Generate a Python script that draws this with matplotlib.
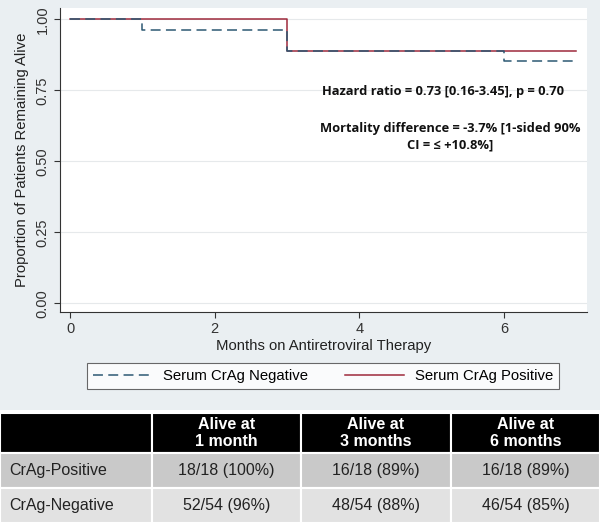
import matplotlib.pyplot as plt
from matplotlib.patches import Rectangle

# Kaplan-Meier step data
pos_months = [0, 3, 3, 7]
pos_surv = [1.0, 1.0, 0.889, 0.889]
neg_months = [0, 1, 1, 3, 3, 6, 6, 7]
neg_surv = [1.0, 1.0, 0.963, 0.963, 0.889, 0.889, 0.852, 0.852]

x_ticks = [0, 2, 4, 6]
y_ticks = [0.0, 0.25, 0.5, 0.75, 1.0]

# table below the chart
col_headers = ['', 'Alive at\n1 month', 'Alive at\n3 months', 'Alive at\n6 months']
row_labels = ['CrAg-Positive', 'CrAg-Negative']
cell_text = [['18/18 (100%)', '16/18 (89%)', '16/18 (89%)'],
             ['52/54 (96%)', '48/54 (88%)', '46/54 (85%)']]

plt.rcParams['font.family'] = ['Liberation Sans', 'DejaVu Sans']

W, H = 600, 524
fig = plt.figure(figsize=(6.0, 5.24), dpi=100)
fig.patch.set_facecolor('white')

# light background behind the chart area
bg = Rectangle((0, 1 - 410 / H), 1, 410 / H, transform=fig.transFigure,
               facecolor='#eaeff2', edgecolor='none', zorder=-10)
fig.add_artist(bg)

ax = fig.add_axes([60 / W, 1 - 312 / H, 527 / W, 304 / H])
ax.set_zorder(1)
ax.set_facecolor('white')
ax.step(neg_months, neg_surv, where='post', color='#2c5873', lw=1.1,
        linestyle=(0, (6.5, 3.5)), label='Serum CrAg Negative', zorder=3)
ax.step(pos_months, pos_surv, where='post', color='#9e2a3c', lw=1.1,
        label='Serum CrAg Positive', zorder=2)

ax.set_xlim(-0.14, 7.15)
ax.set_ylim(-0.03, 1.04)
ax.set_xticks(x_ticks)
ax.set_yticks(y_ticks)
ax.set_yticklabels(['%.2f' % v for v in y_ticks], rotation=90, va='center')
ax.tick_params(labelsize=10.5, colors='#333333', length=4, width=0.8)
ax.grid(axis='y', color='#e6e9eb', lw=0.8)
ax.set_axisbelow(True)
for side in ['top', 'right']:
    ax.spines[side].set_visible(False)
for side in ['left', 'bottom']:
    ax.spines[side].set_color('#333333')
    ax.spines[side].set_linewidth(0.8)

ax.set_xlabel('Months on Antiretroviral Therapy', fontsize=10.7, color='#222222', labelpad=2)
ax.set_ylabel('Proportion of Patients Remaining Alive', fontsize=10.7, color='#222222', labelpad=5)

ax.text(0.727, 0.724, 'Hazard ratio = 0.73 [0.16-3.45], p = 0.70',
        transform=ax.transAxes, ha='center', va='center', fontsize=9.3,
        fontweight='bold', family='Open Sans', color='#111111')
ax.text(0.740, 0.576, 'Mortality difference = -3.7% [1-sided 90%\nCI = \u2264 +10.8%]',
        transform=ax.transAxes, ha='center', va='center', fontsize=9.3,
        fontweight='bold', family=['Open Sans', 'DejaVu Sans'], color='#111111',
        linespacing=1.3)

leg = fig.legend(loc='center', bbox_to_anchor=(323 / W, 1 - 376 / H), ncol=2,
                 fontsize=10.7, frameon=True, fancybox=False, handlelength=4.0,
                 handletextpad=0.7, columnspacing=2.5, borderpad=0.4)
leg.get_frame().set_edgecolor('#444444')
leg.get_frame().set_linewidth(0.8)

# table drawn as rectangles in pixel-based figure coordinates
col_x = [0, 152, 301, 451, 600]
row_y = [413, 453, 488, 523]
row_colors = ['black', '#c9c9c9', '#e2e2e2']
for r in range(3):
    for c in range(4):
        x0, x1 = col_x[c], col_x[c + 1]
        y0, y1 = row_y[r], row_y[r + 1]
        fig.add_artist(Rectangle((x0 / W, 1 - y1 / H), (x1 - x0) / W, (y1 - y0) / H,
                                 transform=fig.transFigure, facecolor=row_colors[r],
                                 edgecolor='white', lw=1.5, zorder=1))
        cx = (x0 + x1) / 2 / W
        cy = 1 - (y0 + y1) / 2 / H
        if r == 0:
            fig.text(cx, cy, col_headers[c], ha='center', va='center', color='white',
                     fontsize=11.5, fontweight='bold', linespacing=1.15, zorder=2)
        elif c == 0:
            fig.text(9 / W, cy, row_labels[r - 1], ha='left', va='center',
                     fontsize=11.5, color='#222222', zorder=2)
        else:
            fig.text(cx, cy, cell_text[r - 1][c - 1], ha='center', va='center',
                     fontsize=11.5, color='#222222', zorder=2)

fig.savefig('out.png', dpi=100)
